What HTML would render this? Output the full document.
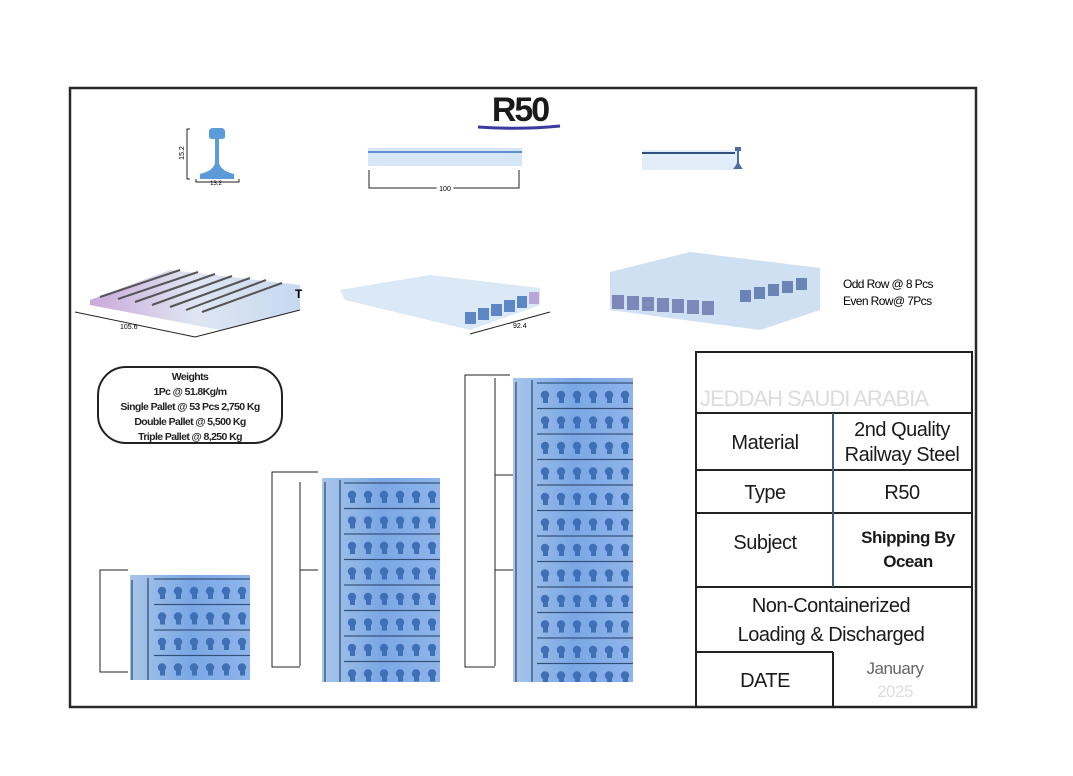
<!DOCTYPE html>
<html><head><meta charset="utf-8"><style>
body{margin:0;background:#fff;}
svg{display:block;font-family:"Liberation Sans",sans-serif;}
</style></head><body>
<svg width="1073" height="776" viewBox="0 0 1073 776" xmlns="http://www.w3.org/2000/svg">
<defs>
<linearGradient id="stk" x1="0" x2="1" y1="0" y2="0">
<stop offset="0" stop-color="#a9c6ea"/><stop offset="0.5" stop-color="#7aa7e4"/><stop offset="1" stop-color="#8fb5ea"/>
</linearGradient>
<pattern id="rows" width="16" height="25.5" patternUnits="userSpaceOnUse">
<line x1="0" y1="1" x2="16" y2="1" stroke="#33507a" stroke-width="1.2"/>
<circle cx="8" cy="13" r="4.2" fill="#3f6fb5"/>
<rect x="6" y="15" width="5" height="6" fill="#3f6fb5"/>
</pattern>
<linearGradient id="pal" x1="0" x2="1"><stop offset="0" stop-color="#c9a9d9"/><stop offset="0.5" stop-color="#dfe6f2"/><stop offset="1" stop-color="#c6d9ef"/></linearGradient>
</defs>
<rect width="1073" height="776" fill="#fff"/>
<rect x="70" y="88" width="906" height="619" fill="none" stroke="#2a2a2a" stroke-width="2.5"/>
<text x="520" y="121" font-size="34" font-weight="bold" text-anchor="middle" fill="#1a1a1a" letter-spacing="-2">R50</text>
<path d="M478 127 Q520 130 560 126" stroke="#3a3aa0" stroke-width="3" fill="none"/>
<!-- rail profile -->
<path d="M209 128 h12 q4 0 4 4 v5 q0 2 -4 2 h-2 v24 q2 8 15 11 v5 h-34 v-5 q13-3 15-11 v-24 h-2 q-4 0 -4 -2 v-5 q0 -4 4 -4z" fill="#5b9bd8"/>
<path d="M190 129 h-3 v50 h3 M196 179 v3 h43 v-3" stroke="#222" fill="none"/>
<text x="184" y="153" font-size="7" transform="rotate(-90 184 153)" text-anchor="middle">15.2</text>
<text x="216" y="185" font-size="6" text-anchor="middle">13.2</text>
<rect x="368" y="148" width="154" height="18" fill="#d6e6f6"/>
<line x1="368" y1="152" x2="522" y2="152" stroke="#5b8fd0" stroke-width="2"/>
<path d="M369 170 v18 h150 v-18" stroke="#222" fill="none"/>
<text x="445" y="191" font-size="7" text-anchor="middle" fill="#fff" stroke="#fff" stroke-width="6">100</text>
<text x="445" y="191" font-size="7" text-anchor="middle">100</text>
<rect x="642" y="150" width="95" height="20" fill="#e1edf8"/>
<line x1="642" y1="153" x2="735" y2="153" stroke="#2f4f7f" stroke-width="2"/>
<path d="M735 147 h6 v4 h-2 v12 q2 4 4 6 h-10 q2-2 4-6 v-12 h-2z" fill="#4b6f9f"/>
<!-- pallets row -->
<path d="M90 300 L170 270 L300 285 L300 310 L220 330 L90 305z" fill="url(#pal)"/>
<g stroke="#555" stroke-width="2">
<line x1="100" y1="297" x2="180" y2="270"/><line x1="118" y1="299" x2="198" y2="272"/><line x1="135" y1="302" x2="215" y2="274"/><line x1="152" y1="305" x2="232" y2="276"/><line x1="170" y1="307" x2="250" y2="278"/><line x1="186" y1="310" x2="266" y2="280"/><line x1="202" y1="312" x2="282" y2="283"/>
</g>
<path d="M75 312 L195 337 L300 310" stroke="#222" fill="none"/>
<text x="120" y="329" font-size="7">105.6</text>
<text x="295" y="298" font-size="12" font-weight="bold">T</text>
<path d="M340 290 L430 275 L540 288 L540 305 L470 330 L345 300z" fill="#dbe8f5"/>
<g fill="#5d86c4"><rect x="465" y="312" width="11" height="12"/><rect x="478" y="308" width="11" height="12"/><rect x="491" y="304" width="11" height="12"/><rect x="504" y="300" width="11" height="12"/><rect x="517" y="296" width="10" height="12"/><rect x="529" y="292" width="10" height="12" fill="#b9a6d6"/></g>
<path d="M470 334 L550 312" stroke="#222" fill="none"/>
<text x="513" y="328" font-size="7">92.4</text>
<path d="M610 272 L690 252 L820 268 L820 310 L760 330 L610 310z" fill="#cfe0f3"/>
<g fill="#7d88b8"><rect x="612" y="295" width="12" height="14"/><rect x="627" y="296" width="12" height="14"/><rect x="642" y="297" width="12" height="14"/><rect x="657" y="298" width="12" height="14"/><rect x="672" y="299" width="12" height="14"/><rect x="687" y="300" width="12" height="14"/><rect x="702" y="301" width="12" height="14"/></g>
<g fill="#6a84b6"><rect x="740" y="290" width="11" height="12"/><rect x="754" y="287" width="11" height="12"/><rect x="768" y="284" width="11" height="12"/><rect x="782" y="281" width="11" height="12"/><rect x="796" y="278" width="11" height="12"/></g>
<text x="843" y="288" font-size="12" letter-spacing="-0.6">Odd Row @ 8 Pcs</text>
<text x="843" y="305" font-size="12" letter-spacing="-0.6">Even Row@ 7Pcs</text>
<rect x="98" y="367" width="184" height="76" rx="28" fill="#fff" stroke="#222" stroke-width="2"/>
<g font-size="10.5" text-anchor="middle" letter-spacing="-0.6" font-weight="bold" fill="#222">
<text x="190" y="380">Weights</text>
<text x="190" y="395">1Pc @ 51.8Kg/m</text>
<text x="190" y="410">Single Pallet @ 53 Pcs 2,750 Kg</text>
<text x="190" y="425">Double Pallet @ 5,500 Kg</text>
<text x="190" y="440">Triple Pallet @ 8,250 Kg</text>
</g>
<!-- stacks -->
<g stroke="#222" fill="none">
<path d="M128 570 h-28 v102 h28"/>
<path d="M318 472 h-46 v195 h28 M300 482 v184 M300 570 h18"/>
<path d="M510 375 h-45 v292 h30 M495 378 v288 M495 475 h18 M495 570 h18"/>
</g>
<rect x="130" y="575" width="120" height="105" fill="url(#stk)"/>
<g transform="translate(154,578)"><rect width="96" height="102" fill="url(#rows)"/></g>
<rect x="322" y="478" width="118" height="204" fill="url(#stk)"/>
<g transform="translate(344,482)"><rect width="96" height="200" fill="url(#rows)"/></g>
<rect x="513" y="378" width="120" height="304" fill="url(#stk)"/>
<g transform="translate(537,382)"><rect width="96" height="300" fill="url(#rows)"/></g>
<g stroke="#2d4870" stroke-width="1.2">
<line x1="132" y1="580" x2="132" y2="680"/><line x1="148" y1="578" x2="148" y2="680"/>
<line x1="325" y1="482" x2="325" y2="682"/><line x1="340" y1="480" x2="340" y2="682"/>
<line x1="516" y1="382" x2="516" y2="682"/><line x1="532" y1="380" x2="532" y2="682"/>
</g>
<!-- table -->
<g stroke="#222" stroke-width="2" fill="none">
<rect x="696" y="352" width="276" height="355"/>
<line x1="696" y1="413" x2="972" y2="413"/>
<line x1="696" y1="470" x2="972" y2="470"/>
<line x1="696" y1="513" x2="972" y2="513"/>
<line x1="696" y1="587" x2="972" y2="587"/>
<line x1="696" y1="652" x2="833" y2="652"/>
<line x1="833" y1="413" x2="833" y2="587" stroke="#3d5f8a"/>
<line x1="833" y1="652" x2="833" y2="707"/>
</g>
<text x="700" y="406" font-size="22" fill="#dcdcdc" letter-spacing="-1">JEDDAH SAUDI ARABIA</text>
<g font-size="20" text-anchor="middle" fill="#1a1a1a" letter-spacing="-0.5">
<text x="765" y="449">Material</text>
<text x="902" y="436">2nd Quality</text>
<text x="902" y="461">Railway Steel</text>
<text x="765" y="499">Type</text>
<text x="902" y="499">R50</text>
<text x="765" y="549">Subject</text>
<text x="908" y="543" font-size="17" font-weight="bold">Shipping By</text>
<text x="908" y="567" font-size="17" font-weight="bold">Ocean</text>
<text x="831" y="612">Non-Containerized</text>
<text x="831" y="641">Loading &amp; Discharged</text>
<text x="765" y="687">DATE</text>
<text x="895" y="674" font-size="17" fill="#666">January</text>
<text x="895" y="697" font-size="17" fill="#ddd">2025</text>
</g>
</svg>
</body></html>
